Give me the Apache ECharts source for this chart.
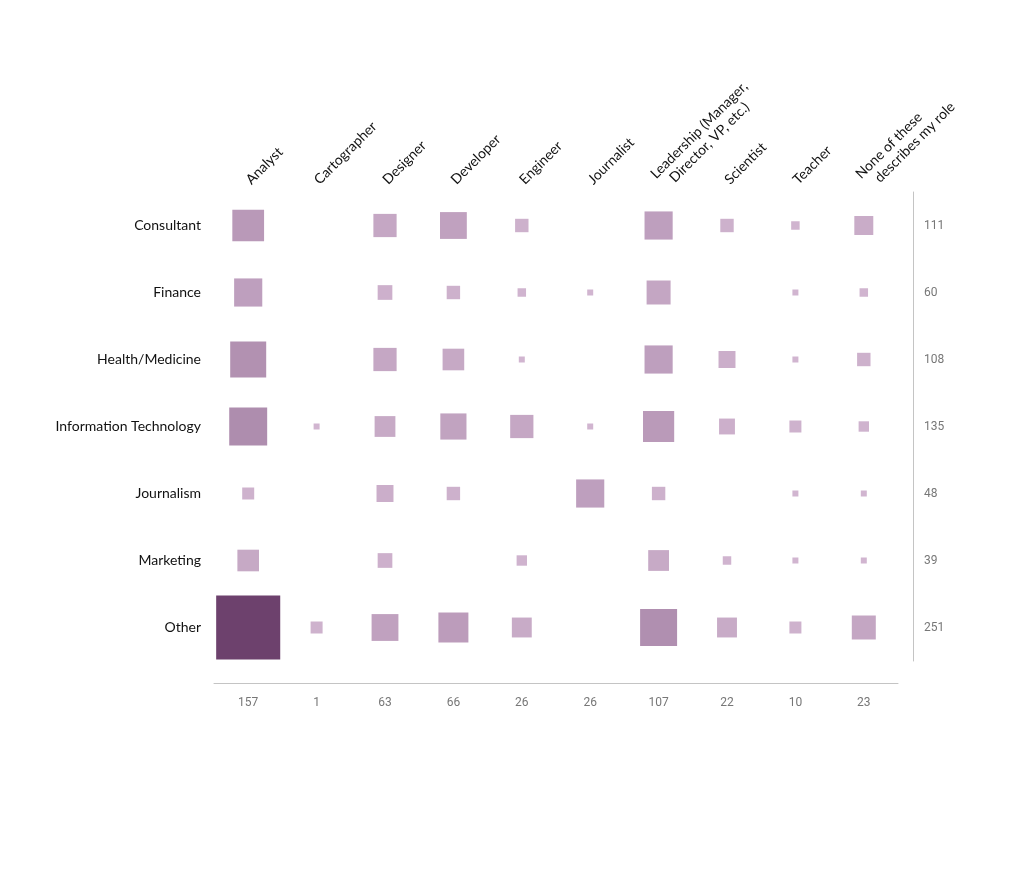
<!DOCTYPE html>
<html>
<head>
<meta charset="utf-8">
<script src="https://cdn.jsdelivr.net/npm/echarts@6/dist/echarts.min.js"></script>
<style>
  html, body { margin: 0; padding: 0; background: #fff; }
  #chart { width: 1024px; height: 891px; }
</style>
</head>
<body>
<div id="chart"></div>
<script>
var roles = ['Analyst', 'Cartographer', 'Designer', 'Developer', 'Engineer', 'Journalist',
    'Leadership (Manager,\n   Director, VP, etc.)', 'Scientist', 'Teacher', 'None of these\n   describes my role'];
var industries = ['Consultant', 'Finance', 'Health/Medicine', 'Information Technology',
    'Journalism', 'Marketing', 'Other'];
/* counts per industry, same order as roles (0 = no square) */
var consultant = [28, 0, 15, 20, 5, 0, 22, 5, 2, 10];
var finance    = [22, 0, 6, 5, 2, 1, 16, 0, 1, 2];
var health     = [36, 0, 15, 13, 1, 0, 22, 8, 1, 5];
var infoTech   = [40, 1, 12, 19, 15, 1, 27, 7, 4, 3];
var journalism = [4, 0, 8, 5, 0, 22, 5, 0, 1, 1];
var marketing  = [13, 0, 6, 0, 3, 0, 12, 2, 1, 1];
var other      = [114, 4, 20, 25, 11, 0, 38, 11, 4, 16];
var roleTotals = ['157', '1', '63', '66', '26', '26', '107', '22', '10', '23'];
var industryTotals = ['111', '60', '108', '135', '48', '39', '251'];

var rows = [consultant, finance, health, infoTech, journalism, marketing, other];
var cells = [];
rows.forEach(function (row, r) {
    row.forEach(function (v, c) {
        if (v > 0) cells.push([c, r, v]);
    });
});

var chart = echarts.init(document.getElementById('chart'));
var option = {
    animation: false,
    grid: { left: 214, right: 126, top: 192, height: 469 },
    visualMap: {
        show: false,
        dimension: 2,
        min: 1,
        max: 114,
        inRange: { color: ['#d1b5d0', '#6d416d'] }
    },
    xAxis: [{
        type: 'category',
        position: 'top',
        data: roles,
        axisLine: { show: false },
        axisTick: { show: false },
        axisLabel: {
            rotate: -45,
            margin: 10,
            interval: 0,
            fontFamily: 'Lato',
            fontSize: 14,
            color: '#111',
            lineHeight: 16
        }
    }, {
        type: 'category',
        position: 'bottom',
        offset: 22,
        data: roleTotals,
        axisLine: { show: true, lineStyle: { color: '#c4c4c4' } },
        axisTick: { show: false },
        axisLabel: { margin: 14, interval: 0, fontFamily: 'Roboto', fontSize: 12, color: '#777' }
    }],
    yAxis: [{
        type: 'category',
        inverse: true,
        data: industries,
        axisLine: { show: false },
        axisTick: { show: false },
        axisLabel: { margin: 13, fontFamily: 'Lato', fontSize: 14, color: '#111' }
    }, {
        type: 'category',
        position: 'right',
        inverse: true,
        offset: 15,
        data: industryTotals,
        axisLine: { show: true, lineStyle: { color: '#c4c4c4' } },
        axisTick: { show: false },
        axisLabel: { margin: 11, fontFamily: 'Roboto', fontSize: 12, color: '#777' }
    }],
    series: [{
        type: 'scatter',
        xAxisIndex: 0,
        yAxisIndex: 0,
        symbol: 'rect',
        symbolSize: function (d) { var s = 6 * Math.sqrt(d[2]); return [s, s]; },
        itemStyle: { opacity: 1 },
        data: cells
    }]
};
chart.setOption(option);
</script>
</body>
</html>
